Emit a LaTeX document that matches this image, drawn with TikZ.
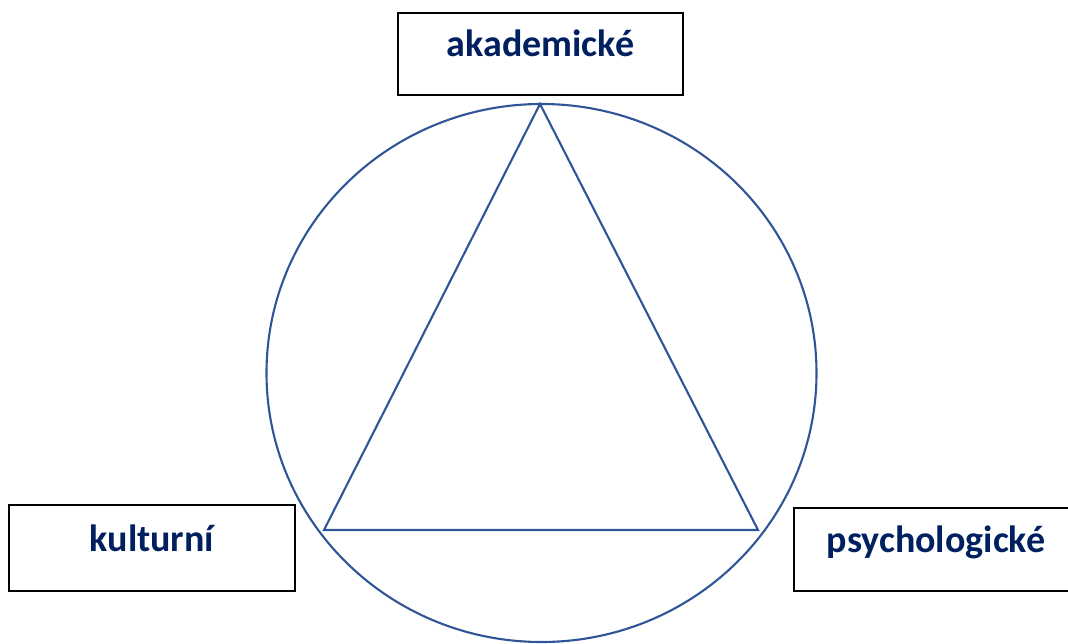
\documentclass[tikz,border=0pt]{standalone}
\usepackage{fontspec}
\setmainfont{Carlito}
\definecolor{navy}{HTML}{002060}
\definecolor{shapeblue}{HTML}{2F5597}
\begin{document}
\begin{tikzpicture}[x=1pt,y=-1pt,
  labelbox/.style={draw=black, line width=2.2pt, inner sep=0pt, minimum width=285pt,
    text=navy, font=\fontsize{38}{44}\selectfont\bfseries},
  shapeline/.style={draw=shapeblue, line width=2.1pt, line join=miter}]
\useasboundingbox (0,0) rectangle (1068,644);
% circle and triangle
\draw[shapeline] (541.5,373) ellipse [x radius=275, y radius=269];
\coordinate (top) at (540,104);
\coordinate (bl) at (324,530);
\coordinate (br) at (758,530);
\draw[shapeline] (top) -- (bl) -- (br) -- cycle;
% boxes
\node[labelbox, text height=43pt, text depth=39pt, anchor=north] (akad) at (540.5,12) {akademické};
\node[labelbox, minimum width=286pt, text height=46pt, text depth=40pt, anchor=north] (kult) at (152,504) {kulturní};
\node[labelbox, minimum width=284pt, text height=44pt, text depth=39pt, anchor=north] (psych) at (936,507) {psychologické};
\end{tikzpicture}
\end{document}
